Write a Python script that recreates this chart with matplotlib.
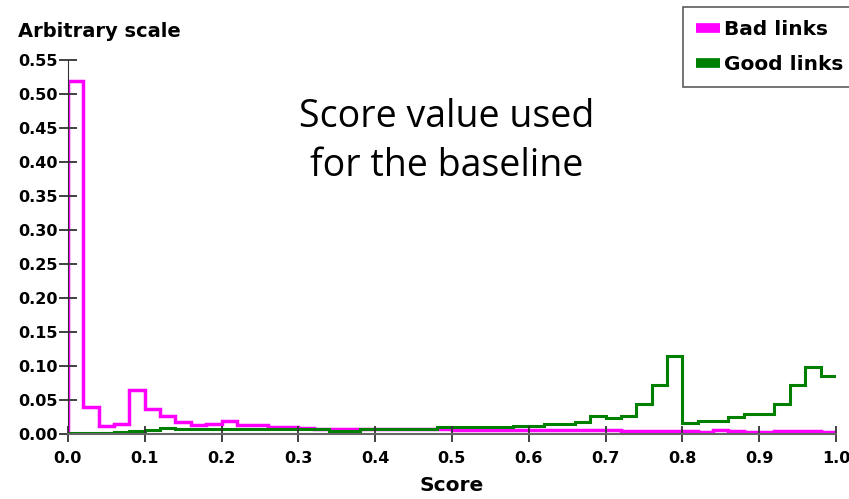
import numpy as np
import matplotlib
matplotlib.use('Agg')
from matplotlib import pyplot as plt
from matplotlib.lines import Line2D

# histogram bins of width 0.02 between 0 and 1
edges = np.linspace(0, 1, 51)

bad_links = [0.520, 0.040, 0.012, 0.015, 0.065, 0.037, 0.026, 0.018, 0.013, 0.015,
             0.020, 0.013, 0.013, 0.010, 0.010, 0.009, 0.008, 0.007, 0.007, 0.007,
             0.007, 0.007, 0.007, 0.007, 0.007, 0.006, 0.006, 0.006, 0.006, 0.006,
             0.006, 0.006, 0.006, 0.006, 0.006, 0.006, 0.004, 0.005, 0.005, 0.005,
             0.005, 0.003, 0.006, 0.005, 0.003, 0.003, 0.005, 0.005, 0.005, 0.003]

good_links = [0.001, 0.002, 0.002, 0.003, 0.005, 0.006, 0.009, 0.008, 0.007, 0.007,
              0.007, 0.007, 0.007, 0.007, 0.007, 0.007, 0.007, 0.005, 0.005, 0.008,
              0.008, 0.008, 0.008, 0.008, 0.010, 0.010, 0.010, 0.010, 0.010, 0.012,
              0.012, 0.015, 0.015, 0.018, 0.026, 0.024, 0.027, 0.045, 0.072, 0.115,
              0.016, 0.019, 0.019, 0.025, 0.030, 0.030, 0.044, 0.072, 0.099, 0.085]

xticks = [0.0, 0.1, 0.2, 0.3, 0.4, 0.5, 0.6, 0.7, 0.8, 0.9, 1.0]
yticks = [0.0, 0.05, 0.10, 0.15, 0.20, 0.25, 0.30, 0.35, 0.40, 0.45, 0.50, 0.55]

fig = plt.figure(figsize=(8.49, 4.99), dpi=100)
ax = fig.add_axes([0.080, 0.130, 0.9046, 0.749])

ax.stairs(bad_links, edges, baseline=0, color='#ff00ff', linewidth=2.5)
ax.stairs(good_links, edges, baseline=None, color='#008000', linewidth=2.2)

ax.set_xlim(0, 1.0)
ax.set_ylim(0, 0.55)
ax.set_xticks(xticks)
ax.set_yticks(yticks)
ax.set_xticklabels(['%.1f' % t for t in xticks], fontweight='bold', fontsize=11.5)
ax.set_yticklabels(['%.2f' % t for t in yticks], fontweight='bold', fontsize=11.5)
ax.tick_params(direction='inout', width=1.3, color='#333333')
ax.tick_params(axis='y', length=13, pad=1)
ax.tick_params(axis='x', length=11, pad=7)

for side in ['top', 'right']:
    ax.spines[side].set_visible(False)
ax.spines['left'].set_color('#333333')
ax.spines['bottom'].set_color('#666666')
ax.spines['bottom'].set_linewidth(1.5)
ax.margins(0)

ax.set_xlabel('Score', fontweight='bold', fontsize=14.5, labelpad=7)
fig.text(0.021, 0.936, 'Arbitrary scale', fontweight='bold', fontsize=14, ha='left', va='center')

ax.text(0.493, 0.43, 'Score value used\nfor the baseline', family='Open Sans',
        fontsize=27, ha='center', va='center', linespacing=1.38)

handles = [Line2D([], [], color='#ff00ff', linewidth=7, solid_capstyle='butt'),
           Line2D([], [], color='#008000', linewidth=7, solid_capstyle='butt')]
leg = fig.legend(handles, ['Bad links', 'Good links'], loc='upper left',
                 bbox_to_anchor=(0.804, 0.986), frameon=True, fancybox=False,
                 prop={'weight': 'bold', 'size': 14.5}, handlelength=1.2,
                 handletextpad=0.2, borderpad=0.65, labelspacing=0.8,
                 borderaxespad=0)
leg.get_frame().set_edgecolor('#333333')
leg.get_frame().set_linewidth(1.2)

plt.savefig('out.png', dpi=100)
